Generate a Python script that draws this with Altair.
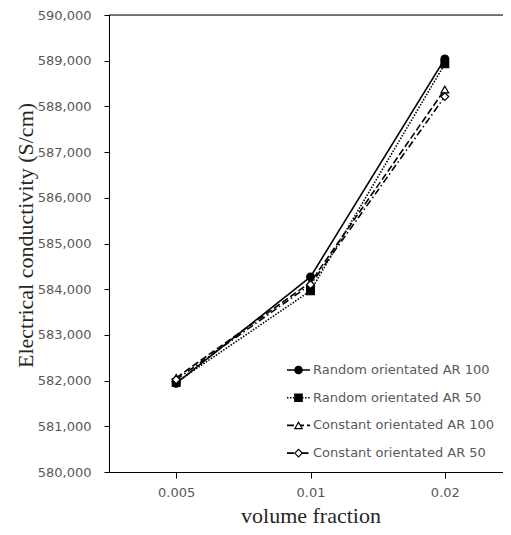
import altair as alt
import pandas as pd

fractions = ["0.005", "0.01", "0.02"]
series = ["Random orientated AR 100", "Random orientated AR 50",
          "Constant orientated AR 100", "Constant orientated AR 50"]
ra100 = [581940, 584270, 589040]
ra50 = [581960, 583965, 588930]
ca100 = [582060, 584150, 588370]
ca50 = [582020, 584100, 588215]
values = [ra100, ra50, ca100, ca50]
y_ticks = list(range(580000, 590001, 1000))

shapes = ["circle", "square", "triangle-up", "diamond"]
fills = ["#000000", "#000000", "#ffffff", "#ffffff"]
dashes = [[1, 0], [1.5, 1.5], [7, 3], [7, 3, 1.5, 3]]

rows = []
for s, vals in zip(series, values):
    for f, v in zip(fractions, vals):
        rows.append({"fraction": f, "series": s, "value": v})
df = pd.DataFrame(rows)

TOP = 7
W, H = 394, 457
X_SPAN = 403  # the plot area runs past the right edge of the picture, as in the original
LABEL_FONT = "DejaVu Sans"
TITLE_FONT = "Liberation Serif"

x_enc = alt.X(
    "fraction:N", sort=fractions,
    scale=alt.Scale(domain=fractions, padding=0.5, range=[0, X_SPAN]),
    axis=alt.Axis(title="volume fraction", labelAngle=0, domainColor="#000000",
                  tickColor="#000000", tickSize=6, labelFont=LABEL_FONT, labelFontSize=13,
                  labelColor="#595959", labelPadding=8, titleFont=TITLE_FONT,
                  titleFontSize=22, titleFontWeight="normal", titleColor="#262626",
                  titleBaseline="alphabetic", titleX=201.5, titleY=50, grid=False),
)
y_enc = alt.Y(
    "value:Q",
    scale=alt.Scale(domain=[580000, 590000], nice=False, zero=False),
    axis=alt.Axis(title="Electrical conductivity (S/cm)", values=y_ticks, format=",d",
                  domainColor="#000000", tickColor="#000000", tickSize=5,
                  labelFont=LABEL_FONT, labelFontSize=13, labelColor="#595959",
                  labelPadding=13, titleFont=TITLE_FONT, titleFontSize=22,
                  titleFontWeight="normal", titleColor="#262626",
                  titleBaseline="alphabetic", titleX=-77, titleY=220, grid=False),
)

base = alt.Chart(df)
lines = base.mark_line(color="black", strokeWidth=1.6).encode(
    x=x_enc, y=y_enc,
    detail="series:N",
    strokeDash=alt.StrokeDash("series:N", scale=alt.Scale(domain=series, range=dashes), legend=None),
)
points = base.mark_point(stroke="black", strokeWidth=1.2, size=60, opacity=1).encode(
    x=x_enc, y=y_enc,
    shape=alt.Shape("series:N", scale=alt.Scale(domain=series, range=shapes), legend=None),
    fill=alt.Fill("series:N", scale=alt.Scale(domain=series, range=fills), legend=None),
)
top_rule = alt.Chart(pd.DataFrame({"top": [590000]})).mark_rule(
    color="black", strokeWidth=1).encode(
    y=alt.Y("top:Q", scale=alt.Scale(domain=[580000, 590000], nice=False, zero=False)))

layers = [top_rule, lines, points]

# legend drawn inside the plot, bottom right
leg_y0, leg_dy = 355, 27.7
for i, name in enumerate(series):
    yy = leg_y0 + i * leg_dy
    one = pd.DataFrame({"label": [name]})
    layers.append(alt.Chart(one).mark_rule(color="black", strokeWidth=1.6, strokeDash=dashes[i]).encode(
        x=alt.value(178), x2=alt.value(201), y=alt.value(yy)))
    layers.append(alt.Chart(one).mark_point(shape=shapes[i], fill=fills[i], stroke="black",
                                            strokeWidth=1.2, size=55, opacity=1).encode(
        x=alt.value(189.5), y=alt.value(yy)))
    layers.append(alt.Chart(one).mark_text(align="left", baseline="middle", font=LABEL_FONT,
                                           fontSize=13, color="#595959").encode(
        text="label:N", x=alt.value(204), y=alt.value(yy)))

chart = alt.layer(*layers).resolve_scale(
    shape="independent", fill="independent", strokeDash="independent"
).properties(
    width=W, height=H,
    autosize=alt.AutoSizeParams(type="none"),
    padding={"left": 101, "top": TOP, "right": 0, "bottom": 519 - TOP - H},
).configure_view(stroke=None).configure(background="white")

chart.save("out.html", embed_options={"renderer": "svg", "actions": False})
